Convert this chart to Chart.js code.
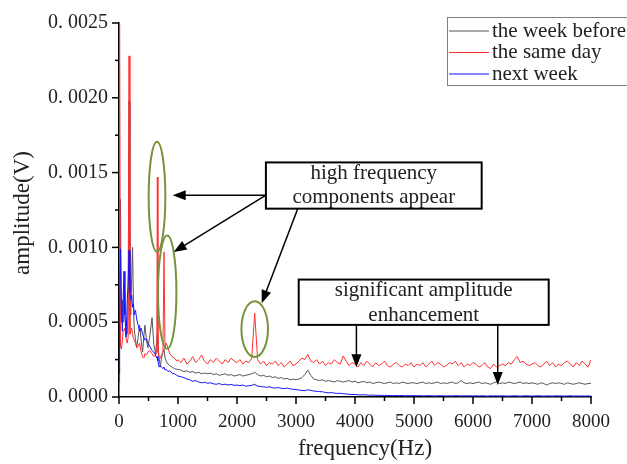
<!DOCTYPE html>
<html>
<head>
<meta charset="utf-8">
<script src="https://cdn.jsdelivr.net/npm/chart.js@4.4.0/dist/chart.umd.min.js"></script>
<style>
  html, body { margin: 0; padding: 0; background: #fff; }
  #spectrum { display: block; }
</style>
</head>
<body>
<canvas id="spectrum" width="627" height="464"></canvas>
<script>
// frequency points (Hz)
const freq = [
  0, 10, 25, 40, 57, 70, 85, 100, 120, 140,
  155, 170, 185, 200, 215, 230, 245, 260, 280, 300,
  325, 350, 375, 400, 420, 440, 465, 490, 520, 560,
  590, 620, 640, 650, 660, 680, 700, 720, 745, 763,
  780, 800, 830, 860, 900, 940, 980,
  1000, 1050, 1100, 1150, 1200, 1250, 1300, 1350, 1400, 1450,
  1500, 1550, 1600, 1650, 1700, 1750, 1800, 1850, 1900, 1950,
  2000, 2050, 2100, 2150, 2200, 2250, 2300, 2350, 2400, 2450,
  2500, 2550, 2600, 2650, 2700, 2750, 2800, 2850, 2900, 2950,
  3000, 3050, 3100, 3150, 3200, 3250, 3300, 3350, 3400, 3450,
  3500, 3550, 3600, 3650, 3700, 3750, 3800, 3850, 3900, 3950,
  4000, 4050, 4100, 4150, 4200, 4250, 4300, 4350, 4400, 4450,
  4500, 4550, 4600, 4650, 4700, 4750, 4800, 4850, 4900, 4950,
  5000, 5050, 5100, 5150, 5200, 5250, 5300, 5350, 5400, 5450,
  5500, 5550, 5600, 5650, 5700, 5750, 5800, 5850, 5900, 5950,
  6000, 6050, 6100, 6150, 6200, 6250, 6300, 6350, 6400, 6450,
  6500, 6550, 6600, 6650, 6700, 6750, 6800, 6850, 6900, 6950,
  7000, 7050, 7100, 7150, 7200, 7250, 7300, 7350, 7400, 7450,
  7500, 7550, 7600, 7650, 7700, 7750, 7800, 7850, 7900, 7950,
  8000
];

// amplitudes, in units of 1e-4 V
const weekBefore = [
  1.0, 8.0, 13.2, 5.0, 6.5, 5.0, 7.0, 5.5, 4.5, 4.2,
  6.0, 19.8, 6.0, 5.5, 8.0, 10.0, 6.0, 4.5, 3.8, 3.3,
  4.0, 4.8, 3.8, 3.0, 4.0, 4.8, 3.8, 3.3, 4.0, 5.3,
  3.5, 2.9, 3.8, 4.2, 3.5, 2.6, 2.0, 2.6, 3.0, 3.2,
  2.6, 2.4, 2.2, 2.1, 2.0, 1.9, 1.85,
  1.85, 1.8, 1.7, 1.75, 1.65, 1.7, 1.6, 1.65, 1.55, 1.6,
  1.55, 1.6, 1.5, 1.55, 1.45, 1.5, 1.55, 1.45, 1.5, 1.4,
  1.45, 1.5, 1.4, 1.45, 1.5, 1.55, 1.65, 1.5, 1.4, 1.45,
  1.35, 1.4, 1.3, 1.35, 1.25, 1.3, 1.2, 1.25, 1.15, 1.2,
  1.15, 1.2, 1.3, 1.5, 1.8, 1.45, 1.2, 1.15, 1.1, 1.15,
  1.05, 1.1, 1.05, 1.0, 1.1, 1.05, 1.0, 1.05, 1.1, 1.0,
  1.05, 0.95, 1.0, 1.05, 0.95, 1.0, 0.9, 0.95, 1.0, 0.95,
  0.9, 0.95, 1.0, 0.9, 0.95, 0.9, 1.0, 0.95, 0.9, 0.95,
  0.95, 0.9, 0.95, 1.0, 0.9, 0.95, 0.9, 0.95, 1.0, 0.9,
  0.95, 0.9, 0.95, 1.0, 0.9, 0.95, 1.1, 0.95, 0.9, 0.95,
  0.9, 0.95, 1.0, 0.9, 0.95, 0.9, 0.85, 0.95, 1.0, 0.9,
  0.95, 0.9, 1.0, 0.95, 0.9, 0.95, 1.0, 0.9, 0.95, 0.9,
  0.95, 0.9, 0.85, 0.95, 0.9, 0.8, 0.9, 0.95, 0.9, 0.95,
  0.9, 0.85, 0.95, 0.9, 0.85, 0.9, 0.95, 0.9, 0.85, 0.9,
  0.92
];

const sameDay = [
  5.0, 25, 3.4, 3.2, 3.8, 4.4, 4.5, 4.6, 3.9, 3.6,
  4.0, 22.8, 4.2, 4.4, 4.6, 4.2, 3.9, 3.8, 3.6, 3.3,
  3.4, 3.6, 3.0, 2.7, 2.6, 2.9, 2.8, 3.0, 3.1, 2.9,
  2.7, 2.8, 3.0, 14.7, 3.0, 2.7, 2.6, 2.8, 3.0, 9.7,
  3.2, 3.6, 3.3, 2.9, 2.7, 2.6, 2.4,
  2.5, 2.3, 2.6, 2.2, 2.4, 2.7, 2.3, 2.5, 2.8, 2.4,
  2.2, 2.5, 2.3, 2.6, 2.4, 2.2, 2.5, 2.3, 2.6, 2.4,
  2.3, 2.5, 2.2, 2.4, 2.3, 2.6, 5.6, 2.5, 2.2, 2.4,
  2.1, 2.3, 2.2, 2.4, 2.1, 2.3, 2.0, 2.2, 2.4, 2.1,
  2.2, 2.4, 2.6, 2.5, 2.85, 2.4, 2.3, 2.5, 2.2, 2.4,
  2.1, 2.3, 2.2, 2.5, 2.3, 2.2, 2.75, 2.4, 2.1, 2.3,
  2.2, 2.0, 2.3, 2.1, 2.4, 2.2, 2.0, 2.3, 2.1, 2.2,
  2.4, 2.1, 2.0, 2.2, 2.3, 2.1, 2.0, 2.2, 2.1, 2.3,
  2.0, 2.2, 2.1, 2.3, 2.0, 2.2, 2.4, 2.1, 2.3, 2.2,
  2.0, 2.1, 2.3, 2.2, 2.4, 2.1, 2.3, 2.0, 2.2, 2.1,
  2.3, 2.2, 2.0, 2.1, 2.3, 2.0, 1.9, 2.2, 2.0, 2.1,
  2.2, 2.1, 2.3, 2.2, 2.5, 2.7, 2.3, 2.4, 2.2, 2.1,
  2.2, 2.3, 2.1, 2.0, 2.2, 2.4, 2.1, 2.3, 2.0, 2.2,
  2.1, 2.3, 2.4, 2.2, 2.0, 2.3, 2.1, 2.4, 2.2, 2.0,
  2.5
];

const nextWeek = [
  1.6, 5.0, 9.9, 6.0, 4.4, 6.5, 8.4, 5.5, 4.0, 6.5,
  7.5, 9.8, 7.0, 6.5, 6.8, 6.0, 6.2, 5.5, 5.8, 5.2,
  4.8, 4.4, 4.6, 4.2, 4.0, 3.8, 3.9, 3.6, 3.4, 3.1,
  3.0, 2.8, 2.6, 2.7, 2.4, 2.0, 2.1, 2.0, 1.9, 2.0,
  1.8, 1.85, 1.7, 1.75, 1.6, 1.55, 1.45,
  1.4, 1.35, 1.3, 1.2, 1.15, 1.05, 1.1, 1.0, 0.95, 0.98,
  0.92, 0.95, 0.88, 0.85, 0.9, 0.82, 0.86, 0.8, 0.84, 0.78,
  0.8, 0.76, 0.8, 0.72, 0.75, 0.78, 0.85, 0.72, 0.7, 0.68,
  0.65, 0.68, 0.62, 0.6, 0.63, 0.58, 0.56, 0.6, 0.54, 0.52,
  0.5, 0.46, 0.44, 0.42, 0.48, 0.45, 0.4, 0.38, 0.36, 0.35,
  0.3, 0.28, 0.3, 0.26, 0.24, 0.25, 0.22, 0.2, 0.18, 0.17,
  0.16, 0.15, 0.14, 0.15, 0.13, 0.12, 0.13, 0.11, 0.12, 0.1,
  0.11, 0.1, 0.1, 0.09, 0.1, 0.09, 0.1, 0.08, 0.09, 0.08,
  0.09, 0.08, 0.09, 0.07, 0.08, 0.09, 0.08, 0.07, 0.08, 0.09,
  0.08, 0.07, 0.08, 0.07, 0.09, 0.08, 0.07, 0.08, 0.07, 0.08,
  0.07, 0.08, 0.07, 0.08, 0.07, 0.06, 0.08, 0.07, 0.08, 0.07,
  0.08, 0.07, 0.06, 0.07, 0.08, 0.07, 0.06, 0.07, 0.08, 0.07,
  0.06, 0.07, 0.08, 0.07, 0.06, 0.07, 0.07, 0.06, 0.08, 0.07,
  0.07, 0.06, 0.07, 0.08, 0.06, 0.07, 0.06, 0.07, 0.06, 0.07,
  0.06
];

const seriesLabels = ['the week before', 'the same day', 'next week'];
const seriesColors = ['#555555', '#ff3030', '#1414ff'];

const UNIT = 1e-4; // stored amplitudes are in 1e-4 V

function toPoints(values) {
  return freq.map((f, i) => ({ x: f, y: values[i] * UNIT }));
}

const serif = "'Liberation Serif', 'DejaVu Serif', serif";
const green = '#77933c';

// callouts, positioned in data units (Hz, V)
const ellipses = [
  { f: 644, v: 0.001339, rf: 141, rv: 0.000368 },
  { f: 817, v: 0.000701, rf: 156, rv: 0.000378 },
  { f: 2300, v: 0.000454, rf: 225, rv: 0.000186 }
];
const boxes = [
  { f1: 2490, f2: 6147, v1: 0.001568, v2: 0.001259, lines: ['high frequency', 'components appear'] },
  { f1: 3046, f2: 7283, v1: 0.000785, v2: 0.000482, lines: ['significant amplitude', 'enhancement'] }
];
const arrows = [
  { f1: 2490, v1: 0.001349, f2: 910, v2: 0.001349 },
  { f1: 2490, v1: 0.001349, f2: 927, v2: 0.000969 },
  { f1: 3029, v1: 0.001259, f2: 2419, v2: 0.000627 },
  { f1: 4024, v1: 0.000482, f2: 4024, v2: 0.000199 },
  { f1: 6419, v1: 0.000482, f2: 6419, v2: 0.000081 }
];

function drawArrow(ctx, x1, y1, x2, y2) {
  const ang = Math.atan2(y2 - y1, x2 - x1);
  const len = 13, half = 5;
  ctx.beginPath();
  ctx.moveTo(x1, y1);
  ctx.lineTo(x2 - Math.cos(ang) * len * 0.8, y2 - Math.sin(ang) * len * 0.8);
  ctx.stroke();
  ctx.beginPath();
  ctx.moveTo(x2, y2);
  ctx.lineTo(x2 - Math.cos(ang) * len + Math.sin(ang) * half, y2 - Math.sin(ang) * len - Math.cos(ang) * half);
  ctx.lineTo(x2 - Math.cos(ang) * len - Math.sin(ang) * half, y2 - Math.sin(ang) * len + Math.cos(ang) * half);
  ctx.closePath();
  ctx.fill();
}

const decorPlugin = {
  id: 'decor',
  afterDraw(chart) {
    const ctx = chart.ctx;
    const xs = chart.scales.x, ys = chart.scales.y;
    const area = chart.chartArea;
    ctx.save();

    // major and minor tick marks, pointing outwards
    ctx.strokeStyle = '#000';
    ctx.lineWidth = 1.5;
    const xt = xs.ticks.map(t => t.value);
    xt.forEach((v, i) => {
      const p = xs.getPixelForValue(v);
      ctx.beginPath(); ctx.moveTo(p, area.bottom); ctx.lineTo(p, area.bottom + 7); ctx.stroke();
      if (i < xt.length - 1) {
        const m = xs.getPixelForValue((v + xt[i + 1]) / 2);
        ctx.beginPath(); ctx.moveTo(m, area.bottom); ctx.lineTo(m, area.bottom + 4); ctx.stroke();
      }
    });
    const yt = ys.ticks.map(t => t.value);
    yt.forEach((v, i) => {
      const p = ys.getPixelForValue(v);
      ctx.beginPath(); ctx.moveTo(area.left, p); ctx.lineTo(area.left - 7, p); ctx.stroke();
      if (i < yt.length - 1) {
        const m = ys.getPixelForValue((v + yt[i + 1]) / 2);
        ctx.beginPath(); ctx.moveTo(area.left, m); ctx.lineTo(area.left - 4, m); ctx.stroke();
      }
    });

    // axis titles
    ctx.fillStyle = '#222';
    ctx.font = '23px ' + serif;
    ctx.textAlign = 'center';
    ctx.textBaseline = 'middle';
    ctx.fillText('frequency(Hz)', 365, 449);
    ctx.save();
    ctx.translate(23, 213);
    ctx.rotate(-Math.PI / 2);
    ctx.fillText('amplitude(V)', 0, 0);
    ctx.restore();

    // legend box in the top right corner
    ctx.strokeStyle = '#808080';
    ctx.lineWidth = 1;
    ctx.strokeRect(447.5, 17.5, 190, 68);
    ctx.font = '21px ' + serif;
    ctx.textAlign = 'left';
    chart.data.datasets.forEach((ds, i) => {
      const ly = 31 + i * 21.5;
      ctx.strokeStyle = ds.borderColor;
      ctx.lineWidth = 1;
      ctx.beginPath(); ctx.moveTo(449, ly); ctx.lineTo(489, ly); ctx.stroke();
      ctx.fillStyle = '#222';
      ctx.fillText(ds.label, 492, ly);
    });

    // green ellipses round the new peaks
    ctx.strokeStyle = green;
    ctx.lineWidth = 2;
    ellipses.forEach(e => {
      const cx = xs.getPixelForValue(e.f), cy = ys.getPixelForValue(e.v);
      const rx = xs.getPixelForValue(e.f + e.rf) - cx;
      const ry = cy - ys.getPixelForValue(e.v + e.rv);
      ctx.beginPath();
      ctx.ellipse(cx, cy, rx, ry, 0, 0, Math.PI * 2);
      ctx.stroke();
    });

    // arrows
    ctx.strokeStyle = '#000';
    ctx.fillStyle = '#000';
    ctx.lineWidth = 1.5;
    arrows.forEach(a => {
      drawArrow(ctx, xs.getPixelForValue(a.f1), ys.getPixelForValue(a.v1),
        xs.getPixelForValue(a.f2), ys.getPixelForValue(a.v2));
    });

    // text boxes
    ctx.font = '21px ' + serif;
    ctx.textAlign = 'center';
    boxes.forEach(b => {
      const x1 = xs.getPixelForValue(b.f1), x2 = xs.getPixelForValue(b.f2);
      const y1 = ys.getPixelForValue(b.v1), y2 = ys.getPixelForValue(b.v2);
      ctx.fillStyle = '#fff';
      ctx.fillRect(x1, y1, x2 - x1, y2 - y1);
      ctx.strokeStyle = '#000';
      ctx.lineWidth = 2;
      ctx.strokeRect(x1, y1, x2 - x1, y2 - y1);
      ctx.fillStyle = '#222';
      b.lines.forEach((t, i) => ctx.fillText(t, (x1 + x2) / 2, y1 + 11 + i * 24.5));
    });

    ctx.restore();
  }
};

new Chart(document.getElementById('spectrum'), {
  type: 'line',
  data: {
    datasets: [
      { label: seriesLabels[0], data: toPoints(weekBefore), borderColor: seriesColors[0], order: 2 },
      { label: seriesLabels[1], data: toPoints(sameDay), borderColor: seriesColors[1], order: 1 },
      { label: seriesLabels[2], data: toPoints(nextWeek), borderColor: seriesColors[2], order: 0 }
    ]
  },
  options: {
    responsive: false,
    animation: false,
    layout: { padding: { left: 0, top: 17, right: 36, bottom: 0 } },
    elements: {
      line: { borderWidth: 1, tension: 0 },
      point: { radius: 0 }
    },
    plugins: {
      legend: { display: false },
      tooltip: { enabled: false }
    },
    scales: {
      x: {
        type: 'linear',
        min: 0,
        max: 8000,
        afterFit: s => { s.height = 67; },
        grid: { drawOnChartArea: false, drawTicks: false },
        border: { color: '#000', width: 1.5 },
        ticks: {
          stepSize: 1000,
          padding: 14,
          maxRotation: 0,
          color: '#222',
          font: { family: serif, size: 19 },
          callback: v => String(v)
        }
      },
      y: {
        min: 0,
        max: 0.0025,
        afterFit: s => { s.width = 119; },
        grid: { drawOnChartArea: false, drawTicks: false },
        border: { color: '#000', width: 1.5 },
        ticks: {
          stepSize: 0.0005,
          padding: 11,
          color: '#222',
          font: { family: serif, size: 20 },
          callback: v => v.toFixed(4).replace('.', '. ')
        }
      }
    }
  },
  plugins: [decorPlugin]
});
</script>
</body>
</html>
